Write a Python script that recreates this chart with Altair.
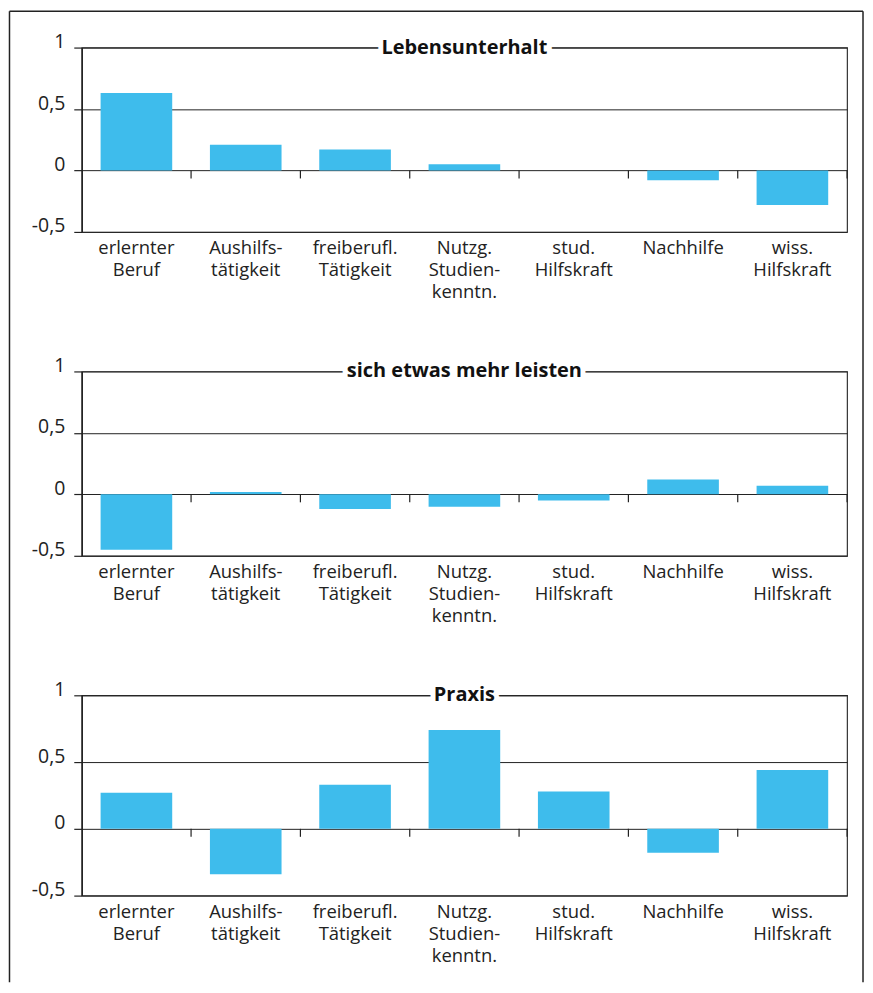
import altair as alt
import pandas as pd

categories = ["erlernter\nBeruf", "Aushilfs-\ntätigkeit", "freiberufl.\nTätigkeit",
              "Nutzg.\nStudien-\nkenntn.", "stud.\nHilfskraft", "Nachhilfe", "wiss.\nHilfskraft"]
titles = ["Lebensunterhalt", "sich etwas mehr leisten", "Praxis"]
lebensunterhalt = [0.63, 0.21, 0.17, 0.05, 0.0, -0.08, -0.28]
mehr_leisten = [-0.45, 0.02, -0.12, -0.10, -0.05, 0.12, 0.07]
praxis = [0.27, -0.34, 0.33, 0.74, 0.28, -0.18, 0.44]
y_ticks = [-0.5, 0, 0.5, 1]

FONT = "Open Sans"
BAR = "#3EBCEC"
INK = "#222222"
W = 768

X_AXIS = alt.Axis(title=None, labelAngle=0, ticks=False, domain=False,
                  labelExpr="split(datum.label, '\\n')",
                  labelFont=FONT, labelFontSize=18.5, labelColor=INK,
                  labelPadding=22, labelLineHeight=22, labelBaseline="alphabetic",
                  labelOverlap=False)
Y_AXIS = alt.Axis(values=y_ticks, title=None,
                  labelExpr="replace(toString(datum.value), '.', ',')",
                  grid=True, gridColor=INK, gridWidth=1,
                  tickSize=8, tickColor=INK, tickWidth=1.2,
                  domainColor=INK, domainWidth=1.5,
                  labelFont=FONT, labelFontSize=19.5, labelColor=INK,
                  labelPadding=9, labelBaseline="alphabetic",
                  labelFlush=False)
Y_SCALE = alt.Scale(domain=[-0.5, 1], nice=False)
X_SCALE = alt.Scale(paddingInner=0, paddingOuter=0)


def panel(title, values, height, frame=False):
    df = pd.DataFrame({"cat": categories, "val": values})
    base = alt.Chart(df)
    bars = base.mark_bar(color=BAR, width={"band": 0.655}).encode(
        x=alt.X("cat:N", sort=categories, scale=X_SCALE, axis=X_AXIS, title=None),
        y=alt.Y("val:Q", scale=Y_SCALE, axis=Y_AXIS, title=None))
    ticks = base.mark_rule(color=INK, strokeWidth=1.2, y2Offset=8).encode(
        x=alt.X("cat:N", sort=categories, bandPosition=1, scale=X_SCALE, axis=X_AXIS, title=None),
        y=alt.YDatum(0, scale=Y_SCALE, axis=Y_AXIS, title=None),
        y2=alt.Y2Datum(0),
    )
    tdf = pd.DataFrame({"t": [title]})
    halo = alt.Chart(tdf).mark_text(font=FONT, fontSize=20, fontWeight="bold",
                                    color="white", stroke="white", strokeWidth=10,
                                    align="center", baseline="middle").encode(
        x=alt.value(W / 2), y=alt.YDatum(1, scale=Y_SCALE, axis=Y_AXIS, title=None), text="t:N")
    label = alt.Chart(tdf).mark_text(font=FONT, fontSize=20, fontWeight="bold",
                                     color="#111111", align="center", baseline="middle").encode(
        x=alt.value(W / 2), y=alt.YDatum(1, scale=Y_SCALE, axis=Y_AXIS, title=None), text="t:N")
    layers = [bars, ticks, halo, label]
    if frame:
        one = alt.Chart(pd.DataFrame({"k": [0]}))
        layers += [
            one.mark_rule(color=INK, strokeWidth=1.5).encode(
                x=alt.value(-72.5), y=alt.value(-36.5), y2=alt.value(938)),
            one.mark_rule(color=INK, strokeWidth=1.5).encode(
                x=alt.value(-72.5), x2=alt.value(784), y=alt.value(-36.5)),
            one.mark_rule(color=INK, strokeWidth=1.5).encode(
                x=alt.value(784), y=alt.value(-36.5), y2=alt.value(938)),
        ]
    return alt.layer(*layers).properties(width=W, height=height)


chart = alt.vconcat(
    panel(titles[0], lebensunterhalt, 185, frame=True),
    panel(titles[1], mehr_leisten, 185),
    panel(titles[2], praxis, 201),
    spacing=140, bounds="flush",
).properties(padding=0).configure_view(stroke="#333333", strokeWidth=1.2)

chart.save("out.html", embed_options={"renderer": "svg", "actions": False})
